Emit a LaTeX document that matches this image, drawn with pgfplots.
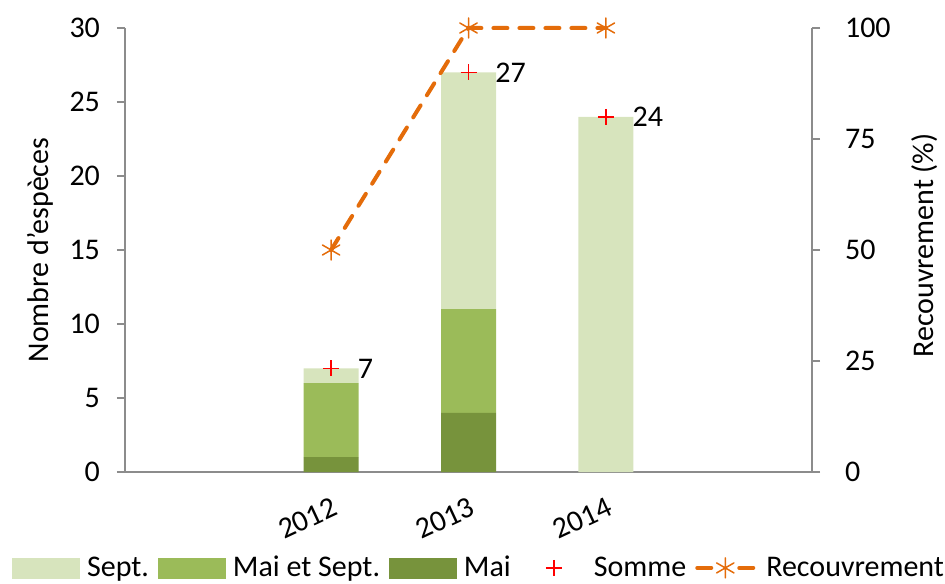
\documentclass[border=0pt]{standalone}
\usepackage{fontspec}
\setmainfont{Carlito}
\usepackage{pgfplots}
\pgfplotsset{compat=1.18}
\definecolor{sept}{HTML}{D7E4BD}
\definecolor{maisept}{HTML}{9BBB59}
\definecolor{mai}{HTML}{77933C}
\definecolor{recouv}{HTML}{E46C0A}
\definecolor{axgray}{HTML}{8C8C8C}
\newcommand{\bigf}{\fontsize{15}{18}\selectfont}
\pgfplotsset{common/.style={width=343.5pt, height=222pt, scale only axis,
  xmin=-1.5, xmax=3.5, font=\bigf, tick label style={font=\bigf},
  /pgf/number format/assume math mode=true},
  markleg/.style={legend image code/.code={\path[draw=none,fill=none] (0pt,-5pt) rectangle (33.5pt,5pt); \draw[##1] plot coordinates {(17pt,0pt)};}},
  lineleg/.style={legend image code/.code={\path[draw=none,fill=none] (0pt,-5pt) rectangle (32pt,5pt);
     \draw[##1, mark=none] (1pt,0pt) -- (8pt,0pt) (22pt,0pt) -- (29pt,0pt);
     \draw[##1] plot coordinates {(15pt,0pt)};}},
  patchleg/.style={legend image code/.code={\fill[#1] (0pt,-5pt) rectangle (33.5pt,5pt);}}}
\begin{document}
\begin{tikzpicture}
\path[use as bounding box] (-62.5pt,-55.5pt) rectangle (410pt,236pt);
\begin{axis}[common, ybar stacked, bar width=27.5pt, ymin=0, ymax=30,
  ytick={0,5,...,30}, axis y line*=left, axis x line*=bottom,
  xtick={0,1,2}, xticklabels={2012,2013,2014}, x tick style={draw=none},
  tick align=outside, y tick style={axgray, line width=0.75pt}, major tick length=4pt,
  axis line style={axgray, line width=0.75pt, -},
  xticklabel style={rotate=25, anchor=north east, yshift=-4pt},
  yticklabel style={xshift=-5pt},
  ylabel={Nombre d'espèces},
  ylabel style={at={(axis description cs:-0.1237,0.5)}, anchor=center}]
\addplot[fill=mai, draw=none] coordinates {(0,1) (1,4) (2,0)};
\addplot[fill=maisept, draw=none] coordinates {(0,5) (1,7) (2,0)};
\addplot[fill=sept, draw=none] coordinates {(0,1) (1,16) (2,24)};
\end{axis}
\begin{axis}[common, hide axis, ymin=0, ymax=30, clip=false]
\addplot[only marks, mark=+, red, mark size=4pt, line width=0.8pt,
  nodes near coords, point meta=y,
  every node near coord/.append style={black, anchor=west, xshift=12pt, inner sep=1pt}]
  coordinates {(0,7) (1,27) (2,24)};
\end{axis}
\begin{axis}[common, axis y line*=right, axis x line=none, ymin=0, ymax=100,
  ytick={0,25,...,100}, tick align=outside, y tick style={axgray, line width=0.75pt},
  major tick length=4pt, axis line style={axgray, line width=0.75pt, -},
  yticklabel style={xshift=9pt},
  ylabel={Recouvrement (\%)},
  ylabel style={at={(axis description cs:1.1645,0.51)}, anchor=center},
  clip=false,
  legend columns=5,
  legend style={at={(0.514,-0.216)}, anchor=center, draw=none, fill=none,
    nodes={inner sep=0pt},
    /tikz/every odd column/.append style={column sep=3.5pt},
    /tikz/every even column/.append style={column sep=4.5pt}, font=\bigf}]
\addlegendimage{patchleg=sept}
\addlegendentry{Sept.}
\addlegendimage{patchleg=maisept}
\addlegendentry{Mai et Sept.}
\addlegendimage{patchleg=mai}
\addlegendentry{Mai}
\addlegendimage{only marks, mark=+, red, mark size=4pt, line width=0.8pt, markleg}
\addlegendentry{Somme}
\addlegendimage{recouv, line width=2pt, line cap=round, mark=asterisk, mark size=5pt, mark options={solid, line width=0.75pt}, lineleg}
\addlegendentry{Recouvrement}
\addplot[forget plot, recouv, line width=2pt, dash pattern=on 7pt off 6pt, line cap=round,
  mark=asterisk, mark size=5pt, mark options={solid, line width=0.75pt}]
  coordinates {(0,50) (1,100) (2,100)};
\end{axis}
\end{tikzpicture}
\end{document}
